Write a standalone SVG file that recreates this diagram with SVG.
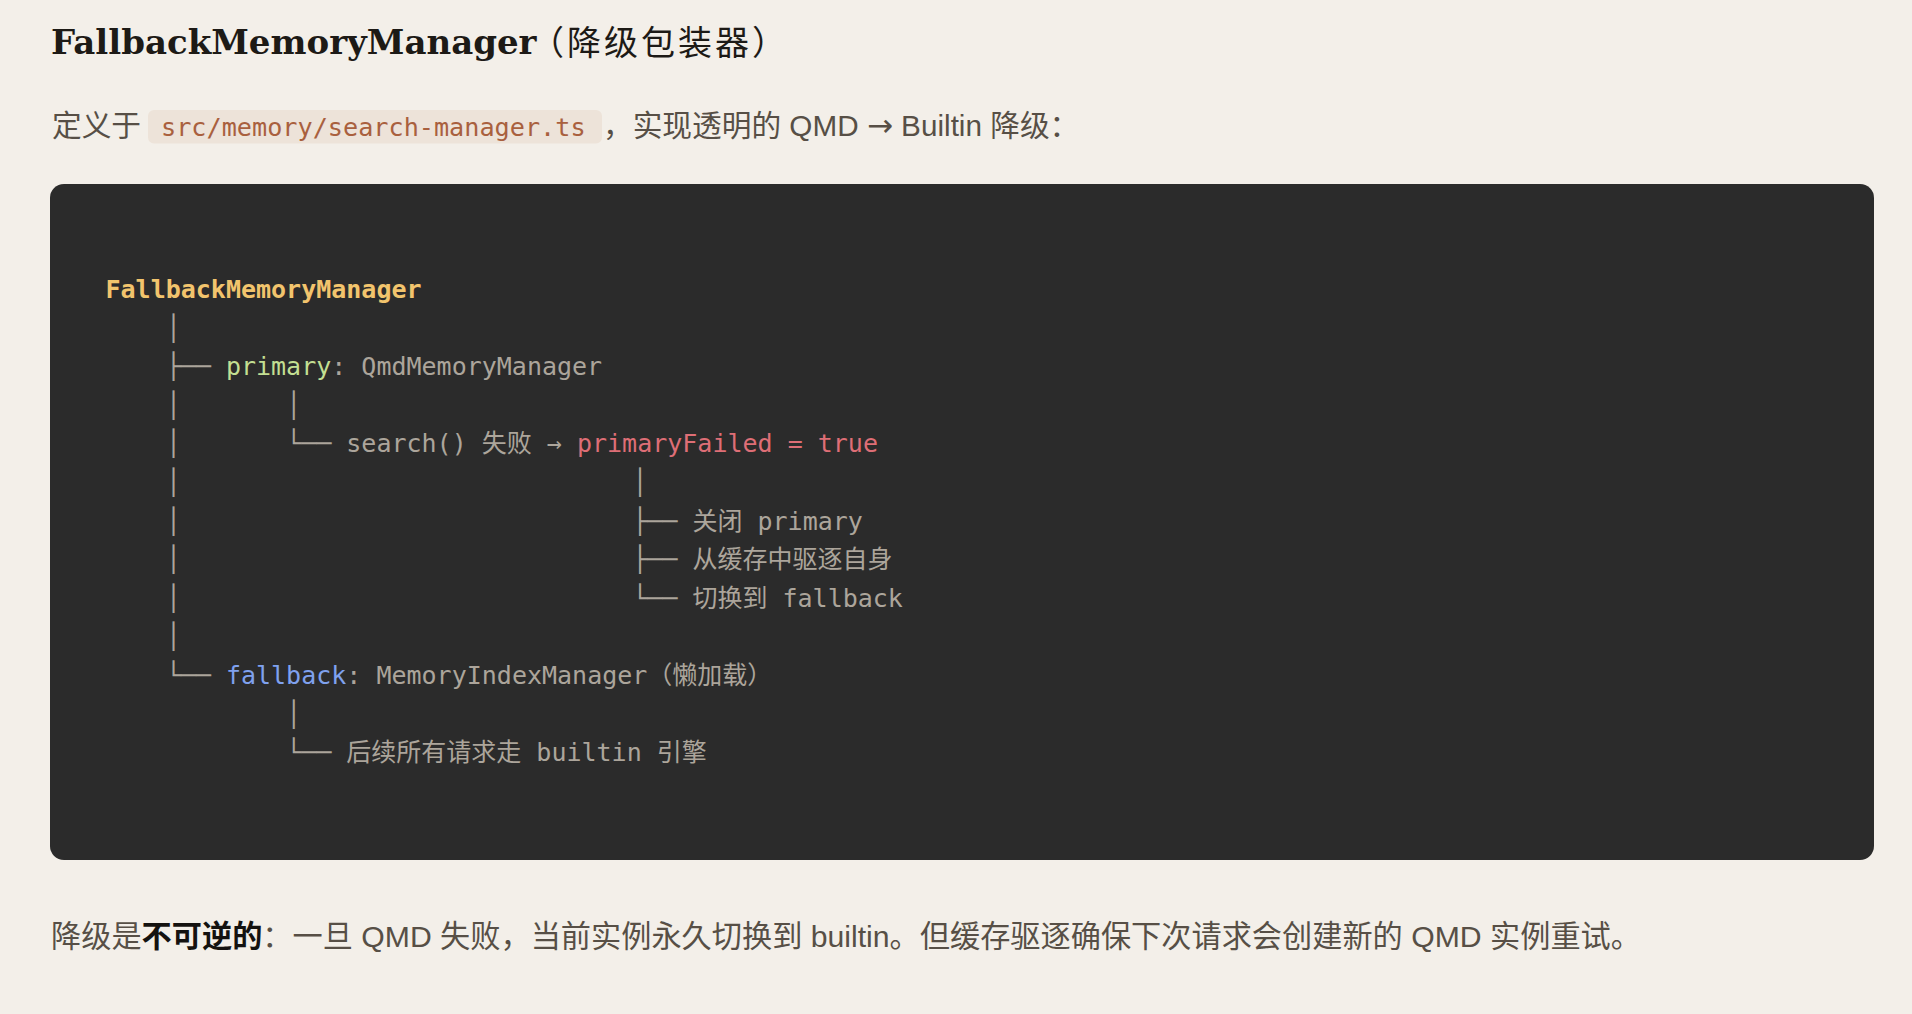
<svg xmlns="http://www.w3.org/2000/svg" width="1912" height="1014" viewBox="0 0 1912 1014">
<style>
.bg{fill:#f3efe9}
.title{font-family:"DejaVu Serif","Noto Sans CJK SC",serif;font-weight:bold;font-size:34px;fill:#1d1a16}
.title-cjk{font-family:"Noto Sans CJK SC",sans-serif;font-weight:normal;font-size:34px;letter-spacing:3px}
.body{font-family:"Liberation Sans","Noto Sans CJK SC",sans-serif;font-size:29.7px;fill:#574f46}
.note{font-size:30.2px}
.arrow{font-family:"DejaVu Sans",sans-serif;font-size:31px}
.strong{font-weight:bold;fill:#141210}
.icode{font-family:"DejaVu Sans Mono","Noto Sans CJK SC",monospace;font-size:25.2px;fill:#a9603e}
.icode-bg{fill:#ede3d9}
.code-bg{fill:#2b2b2b}
.mono{font-family:"DejaVu Sans Mono","Noto Sans CJK SC",monospace;font-size:25px;fill:#aca59b}
.cls{fill:#f2c46d;font-weight:bold}
.green{fill:#c3df92}
.red{fill:#de6e76}
.blue{fill:#7fa1ee}
</style>
<rect class="bg" x="0" y="0" width="1912" height="1014"/>

<g id="heading">
  <text class="title" x="51" y="54">FallbackMemoryManager</text>
  <text class="title title-cjk" x="530" y="55">（降级包装器）</text>
</g>

<g id="intro">
  <text class="body" x="52" y="135.5">定义于</text>
  <rect class="icode-bg" x="148" y="110" width="454" height="33.5" rx="6"/>
  <text class="icode" x="161" y="135.5">src/memory/search-manager.ts</text>
  <text class="body" x="603" y="135.5" xml:space="preserve">，实现透明的 QMD <tspan class="arrow">→</tspan> Builtin 降级：</text>
</g>

<g id="code-block">
  <rect class="code-bg" x="50" y="184" width="1824" height="676" rx="14"/>

  <g id="connectors" class="mono" xml:space="preserve">
    <text x="165.7" y="336.6">│</text>
    <text x="165.7" y="375.2">├──</text>
    <text x="165.7" y="413.8">│</text>
    <text x="286.1" y="413.8">│</text>
    <text x="165.7" y="452.4">│</text>
    <text x="286.1" y="452.4">└──</text>
    <text x="165.7" y="491">│</text>
    <text x="632.25" y="491">│</text>
    <text x="165.7" y="529.6">│</text>
    <text x="632.25" y="529.6">├──</text>
    <text x="165.7" y="568.2">│</text>
    <text x="632.25" y="568.2">├──</text>
    <text x="165.7" y="606.8">│</text>
    <text x="632.25" y="606.8">└──</text>
    <text x="165.7" y="645.4">│</text>
    <text x="165.7" y="684">└──</text>
    <text x="286.1" y="722.6">│</text>
    <text x="286.1" y="761.2">└──</text>
  </g>

  <g id="node-root"><text class="mono cls" x="105.5" y="298">FallbackMemoryManager</text></g>
  <g id="node-primary"><text class="mono" x="225.9" y="375.2" xml:space="preserve"><tspan class="green">primary</tspan>: QmdMemoryManager</text></g>
  <g id="node-search"><text class="mono" x="346.3" y="452.4" xml:space="preserve">search() 失败 → <tspan class="red">primaryFailed = true</tspan></text></g>
  <g id="node-close"><text class="mono" x="692.45" y="529.6" xml:space="preserve">关闭 primary</text></g>
  <g id="node-evict"><text class="mono" x="692.45" y="568.2">从缓存中驱逐自身</text></g>
  <g id="node-switch"><text class="mono" x="692.45" y="606.8" xml:space="preserve">切换到 fallback</text></g>
  <g id="node-fallback"><text class="mono" x="225.9" y="684" xml:space="preserve"><tspan class="blue">fallback</tspan>: MemoryIndexManager（懒加载）</text></g>
  <g id="node-builtin"><text class="mono" x="346.3" y="761.2" xml:space="preserve">后续所有请求走 builtin 引擎</text></g>
</g>

<g id="note">
  <text class="body note" x="51" y="946.5" xml:space="preserve">降级是<tspan class="strong">不可逆的</tspan>：一旦 QMD 失败，当前实例永久切换到 builtin。但缓存驱逐确保下次请求会创建新的 QMD 实例重试。</text>
</g>
</svg>
